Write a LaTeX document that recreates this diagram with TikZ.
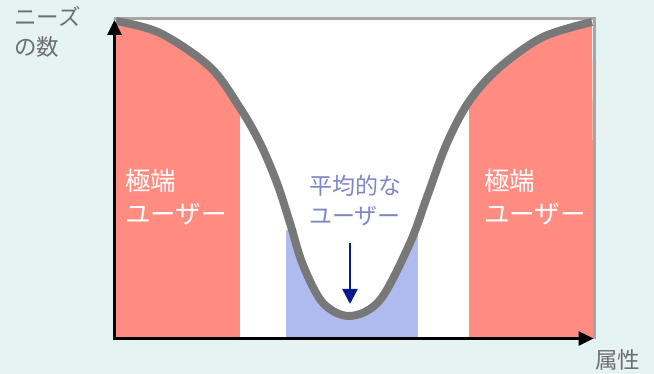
\documentclass[tikz,border=0pt]{standalone}
\usepackage{fontspec}
\newfontfamily\jp{Noto Sans CJK JP}
\usetikzlibrary{arrows.meta}
\definecolor{bgc}{HTML}{E5F3F3}
\definecolor{redc}{HTML}{FF8C80}
\definecolor{bluec}{HTML}{AFBBEE}
\definecolor{framec}{HTML}{A6A6A6}
\definecolor{curvec}{HTML}{787878}
\definecolor{navyc}{HTML}{0A1A8C}
\definecolor{labgray}{HTML}{6E6E6E}
\definecolor{midtext}{HTML}{7F87C6}
\tikzset{
  curveline/.style={curvec, line width=8pt, line cap=butt},
  axisline/.style={black, line width=2.8pt, -{Triangle[width=14pt,length=15pt]}},
  axislabel/.style={font=\jp\fontsize{22.5}{30}\selectfont, text=labgray, inner sep=0pt, anchor=base west, align=left},
  sidelabel/.style={font=\jp\fontsize{25.5}{33}\selectfont, text=white, inner sep=0pt, anchor=base west, align=left},
  midlabel/.style={font=\jp\fontsize{23}{29.5}\selectfont, text=midtext, inner sep=0pt, anchor=base west, align=left},
}
\begin{document}
\begin{tikzpicture}[x=1pt,y=-1pt]
\useasboundingbox (0,0) rectangle (654,374);
\fill[bgc] (0,0) rectangle (654,374);
\fill[white] (114,19) rectangle (594,339);
\begin{scope}
\clip plot[smooth, tension=0.55] coordinates {(116,21) (160,33) (210,67) (240,108) (260,143) (277,183) (290,223) (303,265) (323,303) (350,316) (380,300) (410,243) (427,197) (447,143) (470,100) (500,67) (543,37) (592,22)} -- (594,339) -- (114,339) -- cycle;
\fill[redc] (116,10) rectangle (240,339);
\fill[redc] (469,10) rectangle (594,339);
\fill[bluec] (286,230) rectangle (418,339);
\end{scope}
\draw[framec, line width=3pt] (114,19) -- (594.5,19) -- (594.5,339);
\draw[curveline] plot[smooth, tension=0.55] coordinates {(116,21) (160,33) (210,67) (240,108) (260,143) (277,183) (290,223) (303,265) (323,303) (350,316) (380,300) (410,243) (427,197) (447,143) (470,100) (500,67) (543,37) (592,22)};
\coordinate (o) at (114.5,338.5);
\coordinate (ytop) at (114.5,20);
\coordinate (xleft) at (113,338.5);
\coordinate (xend) at (593.5,338.5);
\draw[axisline] (o) -- (ytop);
\draw[axisline] (xleft) -- (xend);
\coordinate (ma) at (350,243);
\coordinate (mb) at (350,304);
\draw[navyc, line width=2.6pt, -{Triangle[width=15pt,length=15pt]}] (ma) -- (mb);
\node[axislabel] (ylab) at (14,56) {ニーズ\\の数};
\node[axislabel] (xlab) at (595,369) {属性};
\node[sidelabel] (lleft) at (125,224) {極端\\ユーザー};
\node[sidelabel] (lright) at (484,224) {極端\\ユーザー};
\node[midlabel] (lmid) at (309,224.5) {平均的な\\ユーザー};
\end{tikzpicture}
\end{document}
